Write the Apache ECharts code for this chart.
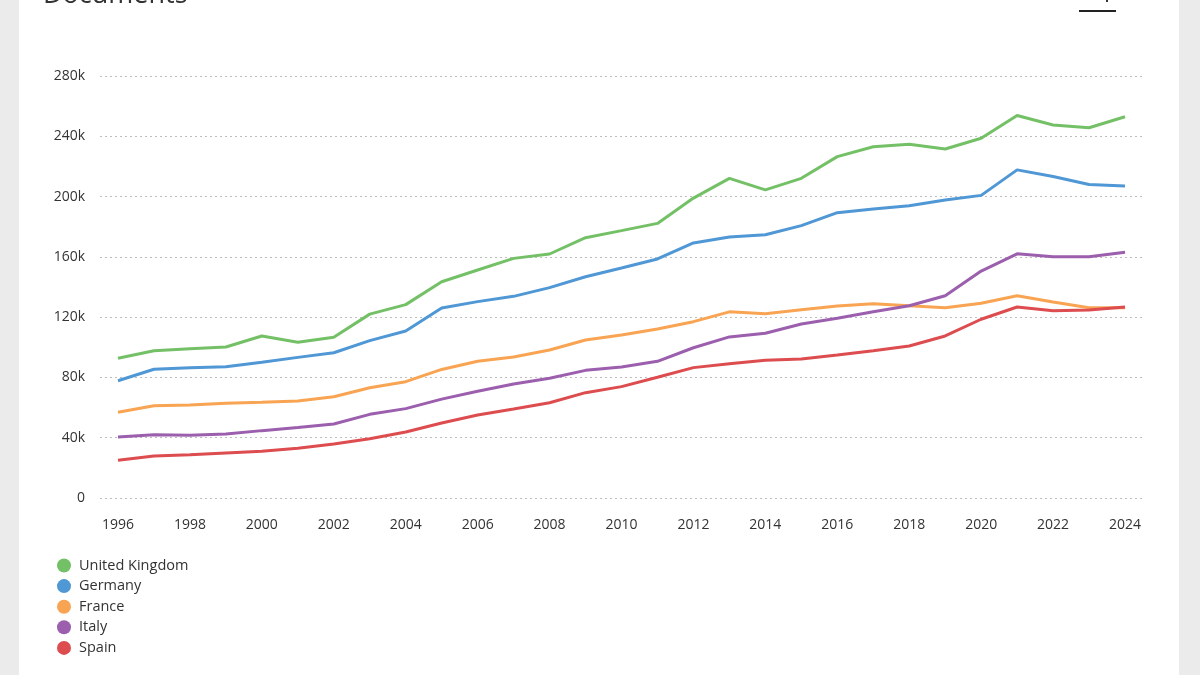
<!DOCTYPE html>
<html>
<head>
<meta charset="utf-8">
<script src="https://cdn.jsdelivr.net/npm/echarts@6/dist/echarts.min.js"></script>
<style>
  html, body { margin: 0; padding: 0; background: #ebebeb; width: 1200px; height: 675px; overflow: hidden; }
  #card { position: absolute; left: 19px; top: 0; width: 1160px; height: 675px; background: #ffffff; }
  #chart { position: absolute; left: 0; top: 0; width: 1200px; height: 675px; }
</style>
</head>
<body>
<div id="card"></div>
<div id="chart"></div>
<script>
const years = ['1996','1997','1998','1999','2000','2001','2002','2003','2004','2005','2006','2007','2008','2009','2010','2011','2012','2013','2014','2015','2016','2017','2018','2019','2020','2021','2022','2023','2024'];
const seriesNames = ['United Kingdom', 'Germany', 'France', 'Italy', 'Spain'];
const unitedKingdom = [92700, 97700, 99000, 100200, 107500, 103300, 106600, 122000, 128300, 143500, 151300, 159000, 161900, 172700, 177400, 182200, 199000, 212100, 204400, 212100, 226500, 233100, 234700, 231600, 238700, 253800, 247500, 245700, 253000];
const germany = [77800, 85400, 86500, 87100, 90000, 93300, 96400, 104400, 110800, 126000, 130300, 133800, 139600, 146800, 152600, 158600, 169200, 173200, 174700, 180700, 189300, 191700, 193900, 197700, 200800, 217700, 213300, 208000, 207000];
const france = [56900, 61200, 61700, 62800, 63500, 64400, 67200, 73200, 77200, 85300, 90700, 93500, 98200, 104800, 108100, 112100, 117000, 123500, 122300, 124900, 127400, 128900, 127600, 126300, 129200, 134200, 130000, 126300, 126300];
const italy = [40500, 42000, 41600, 42500, 44700, 46700, 49100, 55500, 59300, 65600, 70800, 75600, 79400, 84700, 86900, 90700, 99700, 106900, 109300, 115400, 119200, 123600, 127600, 134200, 150600, 162000, 160000, 160000, 163000];
const spain = [25000, 27900, 28700, 29900, 31000, 33000, 35800, 39300, 43800, 49800, 55100, 59100, 63200, 69900, 73900, 80100, 86500, 89000, 91400, 92200, 94900, 97700, 100900, 107500, 118600, 126700, 124200, 124700, 126700];
const colors = ['#74c066', '#4f97d5', '#f8a453', '#9b5fae', '#dd4c4e'];
const yTicks = { min: 0, max: 280000, interval: 40000 };

const chart = echarts.init(document.getElementById('chart'), null, { renderer: 'canvas' });
const allData = [unitedKingdom, germany, france, italy, spain];
const fontFamily = '"Open Sans", "Noto Sans", sans-serif';

chart.setOption({
  backgroundColor: 'transparent',
  animation: false,
  color: colors,
  textStyle: { fontFamily: fontFamily },
  grid: { left: 100, right: 57, top: 76, bottom: 177, containLabel: false },
  legend: {
    orient: 'vertical',
    left: 52,
    top: 553,
    icon: 'circle',
    itemWidth: 14,
    itemHeight: 14,
    itemGap: 5.6,
    textStyle: { fontSize: 14.5, color: '#333333', fontFamily: fontFamily, padding: [0, 0, 0, 3] },
    data: seriesNames
  },
  xAxis: {
    type: 'category',
    data: years,
    boundaryGap: true,
    axisLine: { show: false },
    axisTick: { show: false },
    axisLabel: { interval: 1, margin: 20, fontSize: 14, color: '#333333', fontFamily: fontFamily },
    splitLine: { show: false }
  },
  yAxis: {
    type: 'value',
    min: yTicks.min,
    max: yTicks.max,
    interval: yTicks.interval,
    axisLine: { show: false },
    axisTick: { show: false },
    axisLabel: {
      margin: 15, fontSize: 14, color: '#333333', fontFamily: fontFamily,
      formatter: v => v === 0 ? '0' : (v / 1000) + 'k'
    },
    splitLine: { show: true, lineStyle: { color: '#bdbdbd', type: [2, 3], width: 1 } }
  },
  series: seriesNames.map((name, i) => ({
    name: name,
    type: 'line',
    data: allData[i],
    symbol: 'none',
    showSymbol: false,
    smooth: false,
    lineStyle: { width: 3, color: colors[i] },
    itemStyle: { color: colors[i] },
    emphasis: { disabled: true }
  })),
  graphic: [
    {
      type: 'text',
      left: 43,
      top: -18,
      style: { text: 'Documents', fontSize: 27, fontWeight: 500, fill: '#333333', fontFamily: fontFamily }
    },
    {
      type: 'line',
      shape: { x1: 1079, y1: 11, x2: 1116, y2: 11 },
      style: { stroke: '#222222', lineWidth: 2 }
    },
    {
      type: 'line',
      shape: { x1: 1107, y1: 0, x2: 1107, y2: 2 },
      style: { stroke: '#333333', lineWidth: 2 }
    }
  ]
});
</script>
</body>
</html>
